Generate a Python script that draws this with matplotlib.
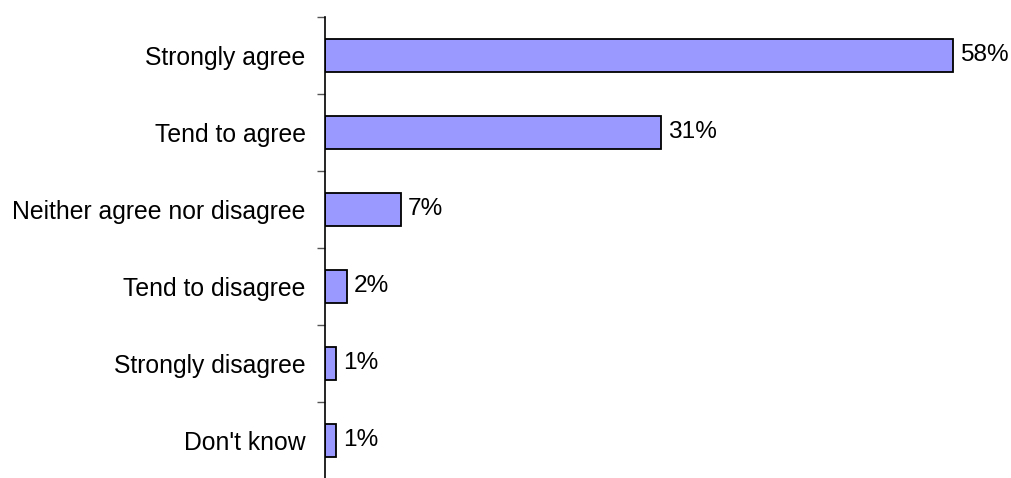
import matplotlib.pyplot as plt
import numpy as np

# survey answers, top to bottom
answers = ['Strongly agree', 'Tend to agree', 'Neither agree nor disagree',
           'Tend to disagree', 'Strongly disagree', "Don't know"]
shares = [58, 31, 7, 2, 1, 1]

plt.rcParams['font.family'] = ['Liberation Sans', 'DejaVu Sans']

fig = plt.figure(figsize=(10.12, 4.78), dpi=100)
ax = fig.add_axes([325 / 1012, -0.002, 1 - 325 / 1012, 0.9665])

pos = np.arange(len(answers))
ax.barh(pos, shares, height=0.43, color='#9999ff', edgecolor='black', linewidth=1.3)

for p, v in zip(pos, shares):
    ax.annotate('%d%%' % v, (v, p), xytext=(5, 0), textcoords='offset points',
                va='center', ha='left', fontsize=17.6)

ax.set_ylim(len(answers) - 0.5, -0.5)
ax.set_xlim(0, 63.4)

# labels on the bars, tick marks between categories
ax.set_yticks(pos)
ax.set_yticklabels(answers, fontsize=17.8)
ax.tick_params(axis='y', which='major', length=0, pad=14)
ax.set_yticks(np.arange(-0.5, len(answers)), minor=True)
ax.tick_params(axis='y', which='minor', length=5.5, width=1, color='#555555')

ax.set_xticks([])
for s in ['top', 'right', 'bottom']:
    ax.spines[s].set_visible(False)
ax.spines['left'].set_linewidth(1.2)

fig.savefig('out.png', dpi=100)
